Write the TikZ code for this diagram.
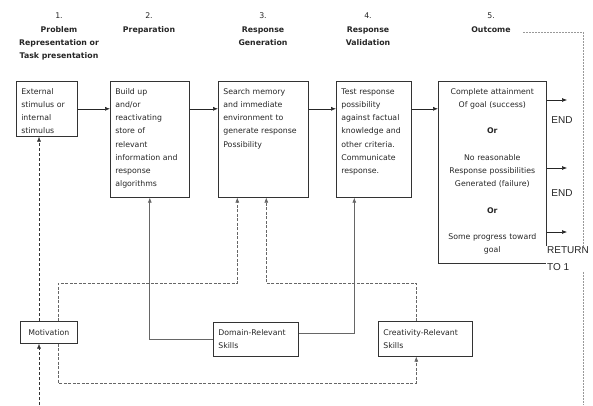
\documentclass[tikz,border=0pt]{standalone}
\usepackage{fontspec}
\setmainfont{DejaVu Sans}
\newfontfamily\endfont{Liberation Sans}
\usetikzlibrary{positioning,arrows,arrows.meta}

\begin{document}
\begin{tikzpicture}[x=1pt, y=-1pt, >={Latex[length=5pt,width=4pt]},
    stagebox/.style={draw=black!80, line width=0.6pt, anchor=north west, align=left, inner xsep=5pt, inner ysep=6pt, text height=7pt, text=black!85, font=\fontsize{7.8}{13.2}\selectfont},
    skillbox/.style={draw=black!80, line width=0.6pt, anchor=north west, align=left, inner xsep=5pt, inner ysep=0pt, text=black!85, font=\fontsize{7.8}{13.2}\selectfont},
    heading/.style={anchor=north, align=center, inner sep=0pt, text=black!85, font=\fontsize{7.8}{13.3}\selectfont},
    endlabel/.style={inner sep=0pt, text=black!85, font=\endfont\fontsize{10}{17}\selectfont},
    flow/.style={->, draw=black!85, line width=0.6pt},
    motline/.style={->, draw=black!80, line width=0.6pt, dash pattern=on 3pt off 2pt},
    feedback/.style={->, draw=black!60, line width=0.6pt, dash pattern=on 3pt off 1.5pt},
    skillline/.style={->, draw=black!60, line width=0.7pt},
    outloop/.style={draw=black!40, line width=0.6pt, dash pattern=on 2pt off 1pt}]

  \useasboundingbox (0,0) rectangle (593,405);

  % Stage headings
  \node (head_prob) [heading] at (59,13) {1.\\\textbf{Problem}\\\textbf{Representation or}\\\textbf{Task presentation}};
  \node (head_prep) [heading] at (149,13) {2.\\\textbf{Preparation}};
  \node (head_gen) [heading] at (263,13) {3.\\\textbf{Response}\\\textbf{Generation}};
  \node (head_valid) [heading] at (368,13) {4.\\\textbf{Response}\\\textbf{Validation}};
  \node (head_out) [heading] at (491,13) {5.\\\textbf{Outcome}};

  % Stage boxes
  \node (box_stim) [stagebox, text width=51pt, text depth=36pt] at (16,81) {External\\stimulus or\\internal\\stimulus};
  \node (box_prep) [stagebox, text width=69pt, text depth=97pt] at (110,81) {Build up\\and/or\\reactivating\\store of\\relevant\\information and\\response\\algorithms};
  \node (box_gen) [stagebox, text width=80pt, text depth=97pt] at (218,81) {Search memory\\and immediate\\environment to\\generate response\\Possibility};
  \node (box_valid) [stagebox, text width=65pt, text depth=97pt] at (336,81) {Test response\\possibility\\against factual\\knowledge and\\other criteria.\\Communicate\\response.};
  \node (box_out) [stagebox, align=center, text width=98pt, text depth=163pt] at (438,81) {Complete attainment\\Of goal (success)\\[13.2pt]\textbf{Or}\\[13.2pt]No reasonable\\Response possibilities\\Generated (failure)\\[13.2pt]\textbf{Or}\\[13.2pt]Some progress toward\\goal};

  % Arrows between the stages
  \draw[flow] (box_stim.east) -- (box_stim.east -| box_prep.west);
  \draw[flow] (box_prep.east |- box_stim.east) -- (box_gen.west |- box_stim.east);
  \draw[flow] (box_gen.east |- box_stim.east) -- (box_valid.west |- box_stim.east);
  \draw[flow] (box_valid.east |- box_stim.east) -- (box_out.west |- box_stim.east);

  % Outcome exits
  \coordinate (out_a) at (567,100);
  \coordinate (out_b) at (567,168);
  \coordinate (out_c) at (567,232);
  \draw[flow] (box_out.east |- out_a) -- (out_a);
  \draw[flow] (box_out.east |- out_b) -- (out_b);
  \draw[flow] (box_out.east |- out_c) -- (out_c);

  % Loop back from the outcome
  \coordinate (loop_start) at (523,32);
  \coordinate (loop_end) at (583,405);
  \draw[outloop] (loop_start) -| (loop_end);

  \node (end_a) [endlabel] at (562,120) {END};
  \node (end_b) [endlabel] at (562,193) {END};
  \node (end_ret) [endlabel, anchor=west, align=left, fill=white, inner sep=1pt] at (546,259) {RETURN\\TO 1};

  % Components
  \node (box_mot) [skillbox, align=center, minimum width=57pt, minimum height=22pt] at (20,321) {Motivation};
  \node (box_domain) [skillbox, text width=75pt, minimum height=34pt] at (213,322) {Domain-Relevant\\Skills};
  \node (box_creat) [skillbox, text width=84pt, minimum height=35pt] at (378,321) {Creativity-Relevant\\Skills};

  \coordinate (fb_upper) at (0,283);
  \coordinate (fb_lower) at (0,383);
  \coordinate (mot_in) at (39,405);

  % Motivation links
  \draw[motline] (mot_in) -- (mot_in |- box_mot.south);
  \draw[motline] (mot_in |- box_mot.north) -- (mot_in |- box_stim.south);
  \draw[feedback] ([xshift=9.5pt]box_mot.north) |- ([xshift=-26pt]box_gen.south |- fb_upper) -- ([xshift=-26pt]box_gen.south);
  \draw[feedback] ([xshift=9.5pt]box_mot.south) |- ([xshift=-9pt]box_creat.south |- fb_lower) -- ([xshift=-9pt]box_creat.south);
  \draw[feedback] ([xshift=-9pt]box_creat.north) |- ([xshift=3pt]box_gen.south |- fb_upper) -- ([xshift=3pt]box_gen.south);

  % Domain skill links
  \draw[skillline] (box_domain.west) -| (box_prep.south);
  \draw[skillline] ([yshift=6pt]box_domain.east) -| ([xshift=-19.5pt]box_valid.south);

\end{tikzpicture}
\end{document}
